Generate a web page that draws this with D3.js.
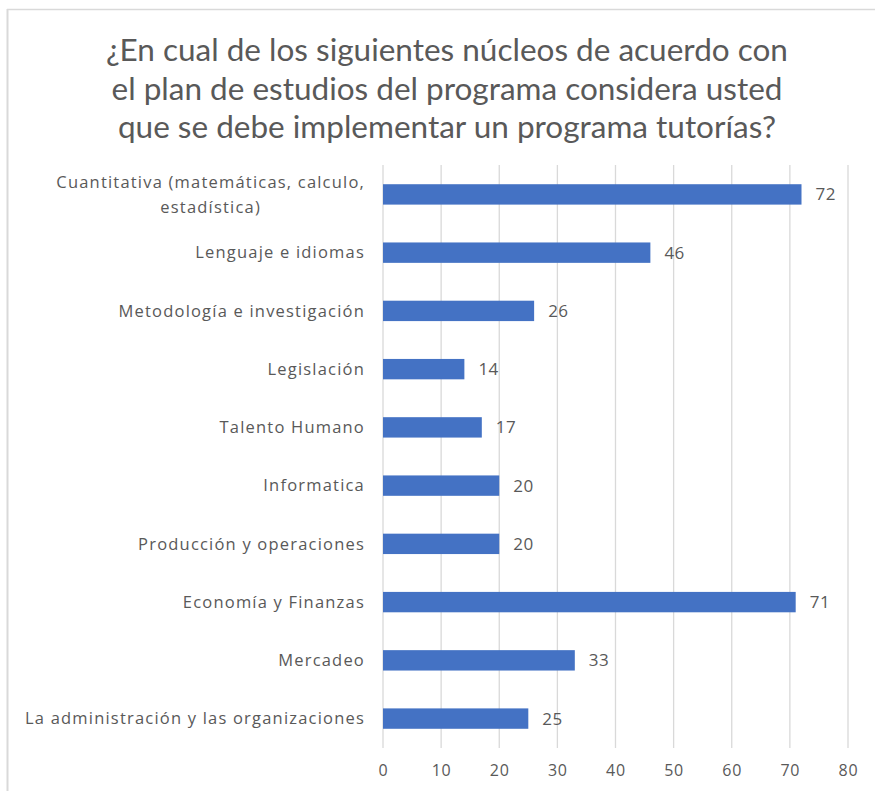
<!DOCTYPE html>
<html>
<head>
<meta charset="utf-8">
<script src="https://cdn.jsdelivr.net/npm/d3@7"></script>
<style>
  body { margin: 0; background: #fff; }
  svg { display: block; }
</style>
</head>
<body>
<svg id="chart" width="875" height="791"></svg>
<script>
// data
var categories = [
  "Cuantitativa (matemáticas, calculo,|estadística)",
  "Lenguaje e idiomas",
  "Metodología e investigación",
  "Legislación",
  "Talento Humano",
  "Informatica",
  "Producción y operaciones",
  "Economía y Finanzas",
  "Mercadeo",
  "La administración y las organizaciones"
];
var values = [72, 46, 26, 14, 17, 20, 20, 71, 33, 25];
var xTicks = [0, 10, 20, 30, 40, 50, 60, 70, 80];
var titleLines = [
  "¿En cual de los siguientes núcleos de acuerdo con",
  "el plan de estudios del programa considera usted",
  "que se debe implementar un programa tutorías?"
];

var svg = d3.select("#chart");
var margin = {top: 165, left: 383, right: 27, bottom: 43};
var width = 875 - margin.left - margin.right;
var height = 791 - margin.top - margin.bottom;
var textColor = "#595959";
var labelFont = "'Open Sans', sans-serif";

// frame edges (top + left only, as in the picture)
svg.append("line").attr("x1", 7).attr("x2", 875).attr("y1", 9.5).attr("y2", 9.5)
  .attr("stroke", "#d9d9d9").attr("stroke-width", 1.5);
svg.append("line").attr("x1", 7.5).attr("x2", 7.5).attr("y1", 9).attr("y2", 791)
  .attr("stroke", "#d9d9d9").attr("stroke-width", 2);

svg.append("g").selectAll("text")
  .data(titleLines)
  .enter().append("text")
    .attr("x", 447)
    .attr("y", function(d, i) { return 61 + i * 38.5; })
    .attr("text-anchor", "middle")
    .attr("font-family", "Lato, sans-serif")
    .attr("font-size", 31.5)
    .attr("fill", textColor)
    .text(function(d) { return d; });

var g = svg.append("g").attr("transform", "translate(" + margin.left + "," + margin.top + ")");

var x = d3.scaleLinear().domain([0, 80]).range([0, width]);
var y = d3.scaleBand().domain(categories).range([0, height]).paddingInner(0.65).paddingOuter(0.33);

// grid
g.append("g").selectAll("line")
  .data(xTicks)
  .enter().append("line")
    .attr("x1", function(d) { return x(d); })
    .attr("x2", function(d) { return x(d); })
    .attr("y1", 0)
    .attr("y2", height)
    .attr("stroke", "#d9d9d9")
    .attr("stroke-width", 1.3);

// x axis labels
var xAxis = g.append("g")
    .attr("transform", "translate(0," + height + ")")
    .call(d3.axisBottom(x).tickValues(xTicks).tickSize(0).tickPadding(17));
xAxis.select(".domain").remove();
xAxis.selectAll("text")
    .attr("font-family", labelFont)
    .attr("font-size", 16)
    .attr("letter-spacing", 0.8)
    .attr("fill", textColor);

// bars
g.append("g").selectAll("rect")
  .data(values)
  .enter().append("rect")
    .attr("x", 0)
    .attr("y", function(d, i) { return y(categories[i]); })
    .attr("width", function(d) { return x(d); })
    .attr("height", y.bandwidth())
    .attr("fill", "#4472c4");

// value labels
g.append("g").selectAll("text")
  .data(values)
  .enter().append("text")
    .attr("x", function(d) { return x(d) + 14; })
    .attr("y", function(d, i) { return y(categories[i]) + y.bandwidth() / 2; })
    .attr("dy", "0.35em")
    .attr("font-family", labelFont)
    .attr("font-size", 17)
    .attr("letter-spacing", 0.5)
    .attr("fill", textColor)
    .text(function(d) { return d; });

// category labels
var labels = g.append("g").selectAll("g")
  .data(categories)
  .enter().append("g")
    .attr("transform", function(d) { return "translate(-18," + (y(d) + y.bandwidth() / 2) + ")"; });

labels.each(function(d) {
  var parts = d.split("|");
  var t = d3.select(this).append("text")
      .attr("font-family", labelFont)
      .attr("font-size", 16.5)
      .attr("letter-spacing", 1.2)
      .attr("fill", textColor);
  if (parts.length == 1) {
    t.attr("text-anchor", "end").attr("dy", "0.35em").text(parts[0]);
  } else {
    // wrapped label: block right aligned, lines centred
    var probe = t.append("tspan").text(parts[0]);
    var w = probe.node().getComputedTextLength();
    probe.remove();
    t.attr("text-anchor", "middle");
    parts.forEach(function(p, i) {
      t.append("tspan")
        .attr("x", -w / 2)
        .attr("y", (i - (parts.length - 1) / 2) * 25)
        .attr("dy", "0.35em")
        .text(p);
    });
  }
});
</script>
</body>
</html>
